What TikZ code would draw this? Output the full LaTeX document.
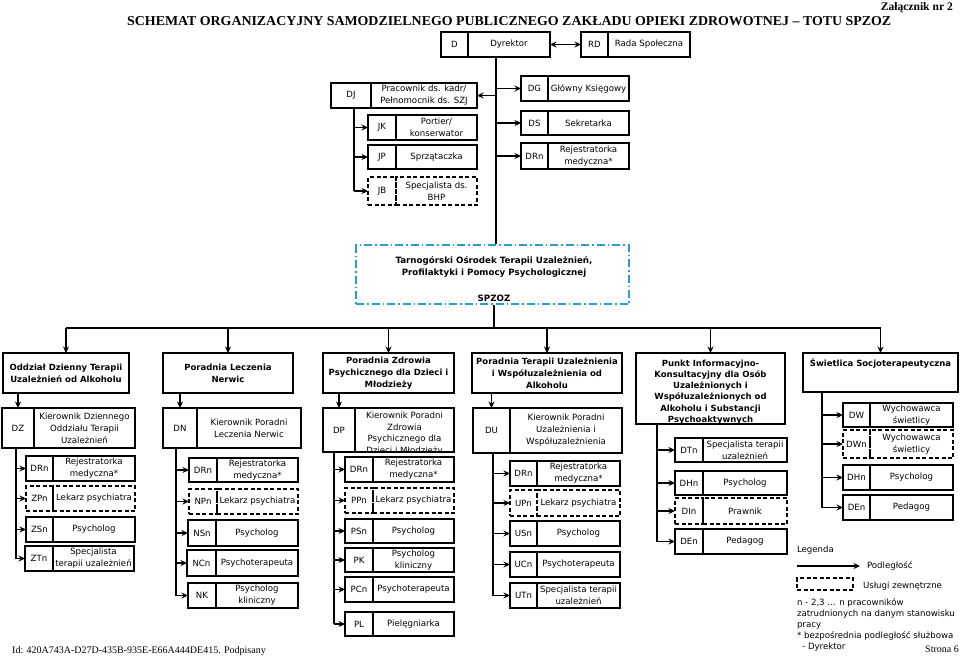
\documentclass[tikz,border=0pt]{standalone}
\usepackage{fontspec}
\usepackage{graphicx}
\usetikzlibrary{arrows.meta}
\setmainfont{DejaVu Sans}
\newfontfamily\tnr{Liberation Serif}
\definecolor{tarblue}{RGB}{41,158,206}
\tikzset{
  cell/.style={draw,line width=1.15pt,inner sep=0pt,outer sep=0pt,align=center,
    font=\fontsize{8.6}{12}\selectfont},
  hdr/.style={cell,font=\fontsize{8.5}{12}\selectfont\bfseries},
  ext/.style={dash pattern=on 4pt off 2.5pt},
  line/.style={line width=1.25pt},
  arr/.style={line width=1.25pt,-{Stealth[length=6.5pt,width=6pt]}},
  darr/.style={line width=1.25pt,{Stealth[length=6.5pt,width=6pt]}-{Stealth[length=6.5pt,width=6pt]}},
  txt/.style={inner sep=0pt,outer sep=0pt,align=left,font=\fontsize{8.6}{11}\selectfont}
}
% #1 extra style, #2 name, #3 x1, #4 y1, #5 xdiv, #6 x2, #7 y2, #8 code, #9 text
\newcommand\twobox[9][]{%
  \node[cell,#1,minimum width={#5-#3},minimum height={#7-#4}] (#2c) at ({(#3+#5)/2},{(#4+#7)/2}) {#8};
  \node[cell,#1,minimum width={#6-#5},minimum height={#7-#4}] (#2) at ({(#5+#6)/2},{(#4+#7)/2}) {#9};}
\begin{document}
\begin{tikzpicture}[x=1pt,y=-1pt]
\useasboundingbox (0,0) rectangle (960,657);
\fill[white] (0,0) rectangle (960,657);
% titles
\node[anchor=base east,inner sep=0pt] (zal) at (953,10) {\resizebox{72pt}{!}{\tnr\fontsize{11.5}{12}\selectfont\bfseries Załącznik nr 2}};
\node[anchor=base west,inner sep=0pt] (title) at (127,25) {\resizebox{764pt}{9pt}{\tnr\fontsize{14}{16}\selectfont\bfseries SCHEMAT ORGANIZACYJNY SAMODZIELNEGO PUBLICZNEGO ZAKŁADU OPIEKI ZDROWOTNEJ – TOTU SPZOZ}};
% top level
\twobox{d}{441}{32}{468}{550}{57}{D}{Dyrektor}
\twobox{rd}{581}{32}{608}{690}{57}{RD}{Rada Społeczna}
\draw[darr] (d.east) -- (rdc.west);
\twobox{dj}{331}{83}{371}{477}{108}{DJ}{Pracownik ds. kadr/\\Pełnomocnik ds. SZJ}
\twobox{jk}{368}{115}{396}{477}{140}{JK}{Portier/\\konserwator}
\twobox{jp}{368}{145}{396}{477}{169}{JP}{Sprzątaczka}
\twobox[ext]{jb}{368}{177}{396}{477}{205}{JB}{Specjalista ds.\\BHP}
\twobox{dg}{521}{76}{548}{629}{101}{DG}{Główny Księgowy}
\twobox{ds}{521}{111}{548}{629}{135}{DS}{Sekretarka}
\twobox{drt}{521}{143}{548}{629}{169}{DRn}{Rejestratorka\\medyczna*}
% Tarnogorski
\node[draw=tarblue,line width=1.15pt,dash pattern=on 8pt off 3pt on 1.5pt off 3pt,inner sep=0pt,
  minimum width=273,minimum height=59] (tar) at (492.5,274.5) {};
\node[inner sep=0pt,align=center,font=\fontsize{8.7}{12}\selectfont\bfseries] (tart) at (494,279)
  {Tarnogórski Ośrodek Terapii Uzależnień,\\Profilaktyki i Pomocy Psychologicznej\\[14pt]SPZOZ};
\coordinate (mainv) at (496,0);
\draw[line] (d.south -| mainv) -- (tar.north -| mainv);
\draw[arr] (mainv |- dj) -- (dj.east);
\draw[arr] (mainv |- dg) -- (dgc.west);
\draw[arr] (mainv |- ds) -- (dsc.west);
\draw[arr] (mainv |- drt) -- (drtc.west);
\coordinate (djv) at (354,191);
\draw[line] (dj.south -| djv) -- (djv);
\draw[arr] (djv |- jk) -- (jkc.west);
\draw[arr] (djv |- jp) -- (jpc.west);
\draw[arr] (djv |- jb) -- (jbc.west);
% headers
\node[hdr,minimum width=126,minimum height=40] (h1) at (66,373) {Oddział Dzienny Terapii\\Uzależnień od Alkoholu};
\node[hdr,minimum width=130,minimum height=40] (h2) at (228,373) {Poradnia Leczenia\\Nerwic};
\node[hdr,minimum width=131,minimum height=40] (h3) at (388.5,373) {Poradnia Zdrowia\\Psychicznego dla Dzieci i\\Młodzieży};
\node[hdr,minimum width=150,minimum height=40] (h4) at (547,373) {Poradnia Terapii Uzależnienia\\i Współuzależnienia od\\Alkoholu};
\node[hdr,minimum width=149,minimum height=71] (h5) at (710.5,388.5) {};
\begin{scope}
  \clip (h5.south west) rectangle (h5.north east);
  \node[inner sep=0pt,align=center,font=\fontsize{8.5}{11.2}\selectfont\bfseries] (h5t) at (710.5,392)
    {Punkt Informacyjno-\\Konsultacyjny dla Osób\\Uzależnionych i\\Współuzależnionych od\\Alkoholu i Substancji\\Psychoaktywnych};
\end{scope}
\node[hdr,minimum width=155,minimum height=39] (h6) at (880.5,372.5) {};
\node[inner sep=0pt,font=\fontsize{8.5}{12}\selectfont\bfseries] (h6t) at (880.5,363) {Świetlica Socjoterapeutyczna};
% bus
\coordinate (bus) at (494,328);
\draw[line] (tar.south -| bus) -- (bus);
\draw[line] (h1.north |- bus) -- (h6.north |- bus);
\foreach \h in {h1,h2,h3,h4,h5,h6} \draw[arr] (\h.north |- bus) -- (\h.north);
% column 1
\twobox{dz}{2}{408}{34}{135}{448}{DZ}{Kierownik Dziennego\\Oddziału Terapii\\Uzależnień}
\draw[arr] (h1.south -| dzc) -- (dzc.north);
\twobox{a1}{26}{456}{53}{135}{481}{DRn}{Rejestratorka\\medyczna*}
\twobox[ext]{a2}{26}{486}{53}{135}{511}{ZPn}{Lekarz psychiatra}
\twobox{a3}{26}{517}{53}{135}{542}{ZSn}{Psycholog}
\twobox{a4}{25}{546}{53}{134}{571}{ZTn}{Specjalista\\terapii uzależnień}
\coordinate (t1) at (16,558.5);
\draw[line] (dzc.south -| t1) -- (t1);
\foreach \b in {a1,a2,a3,a4} \draw[arr] (t1 |- \b c) -- (\b c.west);
% column 2
\twobox{dn}{163}{408}{197}{301}{448}{DN}{Kierownik Poradni\\Leczenia Nerwic}
\draw[arr] (h2.south -| dnc) -- (dnc.north);
\twobox{b1}{189}{458}{217}{298}{482}{DRn}{Rejestratorka\\medyczna*}
\twobox[ext]{b2}{189}{489}{217}{298}{514}{NPn}{Lekarz psychiatra}
\twobox{b3}{188}{520}{216}{298}{546}{NSn}{Psycholog}
\twobox{b4}{187}{550}{216}{298}{576}{NCn}{Psychoterapeuta}
\twobox{b5}{188}{583}{216}{298}{608}{NK}{Psycholog\\kliniczny}
\coordinate (t2) at (176,595.5);
\draw[line] (dnc.south -| t2) -- (t2);
\foreach \b in {b1,b2,b3,b4,b5} \draw[arr] (t2 |- \b c) -- (\b c.west);
% column 3
\twobox{dp}{323}{408}{355}{454}{452}{DP}{}
\begin{scope}
  \clip (dp.south west) rectangle (dp.north east);
  \node[inner sep=0pt,align=center,font=\fontsize{8.6}{11.7}\selectfont] (dpt) at (404.5,433.5)
    {Kierownik Poradni\\Zdrowia\\Psychicznego dla\\Dzieci i Młodzieży};
\end{scope}
\draw[arr] (h3.south -| dpc) -- (dpc.north);
\twobox{c1}{345}{457}{373}{454}{482}{DRn}{Rejestratorka\\medyczna*}
\twobox[ext]{c2}{345}{488}{373}{454}{513}{PPn}{Lekarz psychiatra}
\twobox{c3}{345}{519}{373}{454}{543}{PSn}{Psycholog}
\twobox{c4}{345}{548}{373}{454}{572}{PK}{Psycholog\\kliniczny}
\twobox{c5}{345}{577}{373}{454}{602}{PCn}{Psychoterapeuta}
\twobox{c6}{345}{612}{373}{454}{636}{PL}{Pielęgniarka}
\coordinate (t3) at (334,624);
\draw[line] (dpc.south -| t3) -- (t3);
\foreach \b in {c1,c2,c3,c4,c5,c6} \draw[arr] (t3 |- \b c) -- (\b c.west);
% column 4
\twobox{du}{473}{408}{510}{622}{453}{DU}{Kierownik Poradni\\Uzależnienia i\\Współuzależnienia}
\draw[arr] (h4.south -| duc) -- (duc.north);
\twobox{e1}{510}{461}{537}{620}{486}{DRn}{Rejestratorka\\medyczna*}
\twobox[ext]{e2}{510}{490}{537}{620}{516}{UPn}{Lekarz psychiatra}
\twobox{e3}{510}{521}{537}{620}{546}{USn}{Psycholog}
\twobox{e4}{510}{552}{537}{620}{577}{UCn}{Psychoterapeuta}
\twobox{e5}{510}{583}{537}{620}{608}{UTn}{Specjalista terapii\\uzależnień}
\coordinate (t4) at (493,595.5);
\draw[line] (duc.south -| t4) -- (t4);
\foreach \b in {e1,e2,e3,e4,e5} \draw[arr] (t4 |- \b c) -- (\b c.west);
% column 5
\twobox{f1}{675}{438}{703}{787}{462}{DTn}{Specjalista terapii\\uzależnień}
\twobox{f2}{675}{471}{703}{787}{495}{DHn}{Psycholog}
\twobox[ext]{f3}{675}{498}{703}{787}{524}{DIn}{Prawnik}
\twobox{f4}{675}{529}{703}{787}{554}{DEn}{Pedagog}
\coordinate (t5) at (657,541.5);
\draw[line] (h5.south -| t5) -- (t5);
\foreach \b in {f1,f2,f3,f4} \draw[arr] (t5 |- \b c) -- (\b c.west);
% column 6
\twobox{g1}{843}{403}{870}{953}{427}{DW}{Wychowawca\\świetlicy}
\twobox[ext]{g2}{843}{430}{870}{953}{458}{DWn}{Wychowawca\\świetlicy}
\twobox{g3}{843}{465}{870}{953}{490}{DHn}{Psycholog}
\twobox{g4}{843}{495}{870}{953}{520}{DEn}{Pedagog}
\coordinate (t6) at (822,507.5);
\draw[line] (h6.south -| t6) -- (t6);
\foreach \b in {g1,g2,g3,g4} \draw[arr] (t6 |- \b c) -- (\b c.west);
% legend
\node[txt,anchor=west] (leg) at (797,550) {Legenda};
\coordinate (la1) at (797,566);
\coordinate (la2) at (860,566);
\draw[arr] (la1) -- (la2);
\node[txt,anchor=west] (lpod) at (867,566) {Podległość};
\node[draw,line width=1.15pt,ext,inner sep=0pt,minimum width=56,minimum height=12] (lbox) at (825,584) {};
\node[txt,anchor=west] (lusl) at (863,586) {Usługi zewnętrzne};
\node[txt,anchor=north west] (lnote) at (797,599)
  {n - 2,3 ... n pracowników\\zatrudnionych na danym stanowisku\\pracy\\* bezpośrednia podległość służbowa\\\hspace*{0.6em}- Dyrektor};
% footer
\node[anchor=base west,inner sep=0pt,font=\tnr\fontsize{10}{12}\selectfont] (idl) at (12,653) {Id: 420A743A-D27D-435B-935E-E66A444DE415. Podpisany};
\node[anchor=base east,inner sep=0pt,font=\tnr\fontsize{10}{12}\selectfont] (str) at (959,652) {Strona 6};
\end{tikzpicture}
\end{document}
